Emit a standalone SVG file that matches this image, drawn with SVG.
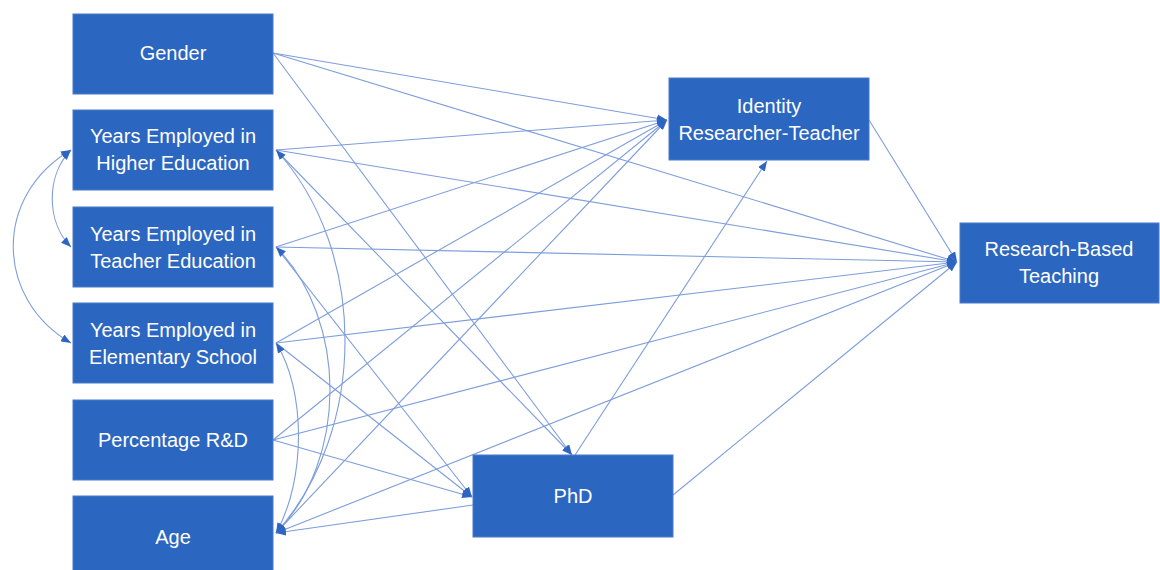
<svg xmlns="http://www.w3.org/2000/svg" width="1160" height="570" viewBox="0 0 1160 570">
<style>
.box{fill:#2B66C0;stroke:#4A7BCC;stroke-width:1}
.lbl{fill:#FFFFFF;font-family:"Liberation Sans",Arial,sans-serif;font-size:20px;text-anchor:middle;dominant-baseline:central}
.ln{fill:none;stroke:#7D9DDB;stroke-width:1.1}
</style>
<defs>
<marker id="ah" markerUnits="userSpaceOnUse" markerWidth="11" markerHeight="8" refX="10" refY="4" orient="auto-start-reverse">
<path d="M0,0 L10,4 L0,8 z" fill="#2F65C2"/>
</marker>
</defs>
<rect width="1160" height="570" fill="#FFFFFF"/>
<g id="connectors">
<line class="ln" x1="273" y1="53" x2="667" y2="120" marker-end="url(#ah)"/>
<line class="ln" x1="273" y1="53" x2="957" y2="262" marker-end="url(#ah)"/>
<line class="ln" x1="273" y1="53" x2="572" y2="455" marker-end="url(#ah)"/>
<line class="ln" x1="276" y1="150" x2="667" y2="120" marker-end="url(#ah)"/>
<line class="ln" x1="276" y1="150" x2="957" y2="262" marker-end="url(#ah)"/>
<line class="ln" x1="276" y1="150" x2="572" y2="455" marker-end="url(#ah)"/>
<line class="ln" x1="276" y1="247" x2="667" y2="120" marker-end="url(#ah)"/>
<line class="ln" x1="276" y1="247" x2="957" y2="262" marker-end="url(#ah)"/>
<line class="ln" x1="276" y1="247" x2="472" y2="497" marker-end="url(#ah)"/>
<line class="ln" x1="276" y1="343" x2="667" y2="120" marker-end="url(#ah)"/>
<line class="ln" x1="276" y1="343" x2="957" y2="262" marker-end="url(#ah)"/>
<line class="ln" x1="276" y1="343" x2="472" y2="497" marker-end="url(#ah)"/>
<line class="ln" x1="273" y1="440" x2="667" y2="120" marker-end="url(#ah)"/>
<line class="ln" x1="273" y1="440" x2="957" y2="262" marker-end="url(#ah)"/>
<line class="ln" x1="273" y1="440" x2="472" y2="497" marker-end="url(#ah)"/>
<line class="ln" x1="276" y1="533" x2="667" y2="120" marker-end="url(#ah)"/>
<line class="ln" x1="276" y1="533" x2="957" y2="262" marker-end="url(#ah)"/>
<line class="ln" x1="473" y1="505" x2="276" y2="533" marker-end="url(#ah)"/>
<line class="ln" x1="575" y1="455" x2="767" y2="161" marker-end="url(#ah)"/>
<line class="ln" x1="673" y1="495" x2="957" y2="262" marker-end="url(#ah)"/>
<line class="ln" x1="869" y1="120" x2="957" y2="262" marker-end="url(#ah)"/>
<path class="ln" d="M71,150 C46,175 46,222 71,247" marker-start="url(#ah)" marker-end="url(#ah)"/>
<path class="ln" d="M71,150 C-6,195 -6,298 71,343" marker-start="url(#ah)" marker-end="url(#ah)"/>
<path class="ln" d="M276,150 C368,250 368,430 276,533" marker-start="url(#ah)" marker-end="url(#ah)"/>
<path class="ln" d="M276,247 C348,320 348,460 276,533" marker-start="url(#ah)" marker-end="url(#ah)"/>
<path class="ln" d="M276,343 C306,390 306,480 276,533" marker-start="url(#ah)" marker-end="url(#ah)"/>
</g>
<g id="gender"><rect class="box" x="73" y="14" width="200" height="80"/><text class="lbl" x="173" y="53">Gender</text></g>
<g id="higher-ed"><rect class="box" x="73" y="110" width="200" height="80"/><text class="lbl" x="173" y="136">Years Employed in</text><text class="lbl" x="173" y="163">Higher Education</text></g>
<g id="teacher-ed"><rect class="box" x="73" y="207" width="200" height="80"/><text class="lbl" x="173" y="234">Years Employed in</text><text class="lbl" x="173" y="261">Teacher Education</text></g>
<g id="elementary"><rect class="box" x="73" y="303" width="200" height="80"/><text class="lbl" x="173" y="330">Years Employed in</text><text class="lbl" x="173" y="357">Elementary School</text></g>
<g id="rd"><rect class="box" x="73" y="400" width="200" height="80"/><text class="lbl" x="173" y="440">Percentage R&amp;D</text></g>
<g id="age"><rect class="box" x="73" y="496" width="200" height="80"/><text class="lbl" x="173" y="537">Age</text></g>
<g id="identity"><rect class="box" x="669" y="78" width="200" height="82"/><text class="lbl" x="769" y="106">Identity</text><text class="lbl" x="769" y="133">Researcher-Teacher</text></g>
<g id="rbt"><rect class="box" x="960" y="223" width="199" height="80"/><text class="lbl" x="1059" y="249">Research-Based</text><text class="lbl" x="1059" y="276">Teaching</text></g>
<g id="phd"><rect class="box" x="473" y="455" width="200" height="82"/><text class="lbl" x="573" y="496">PhD</text></g>
</svg>
